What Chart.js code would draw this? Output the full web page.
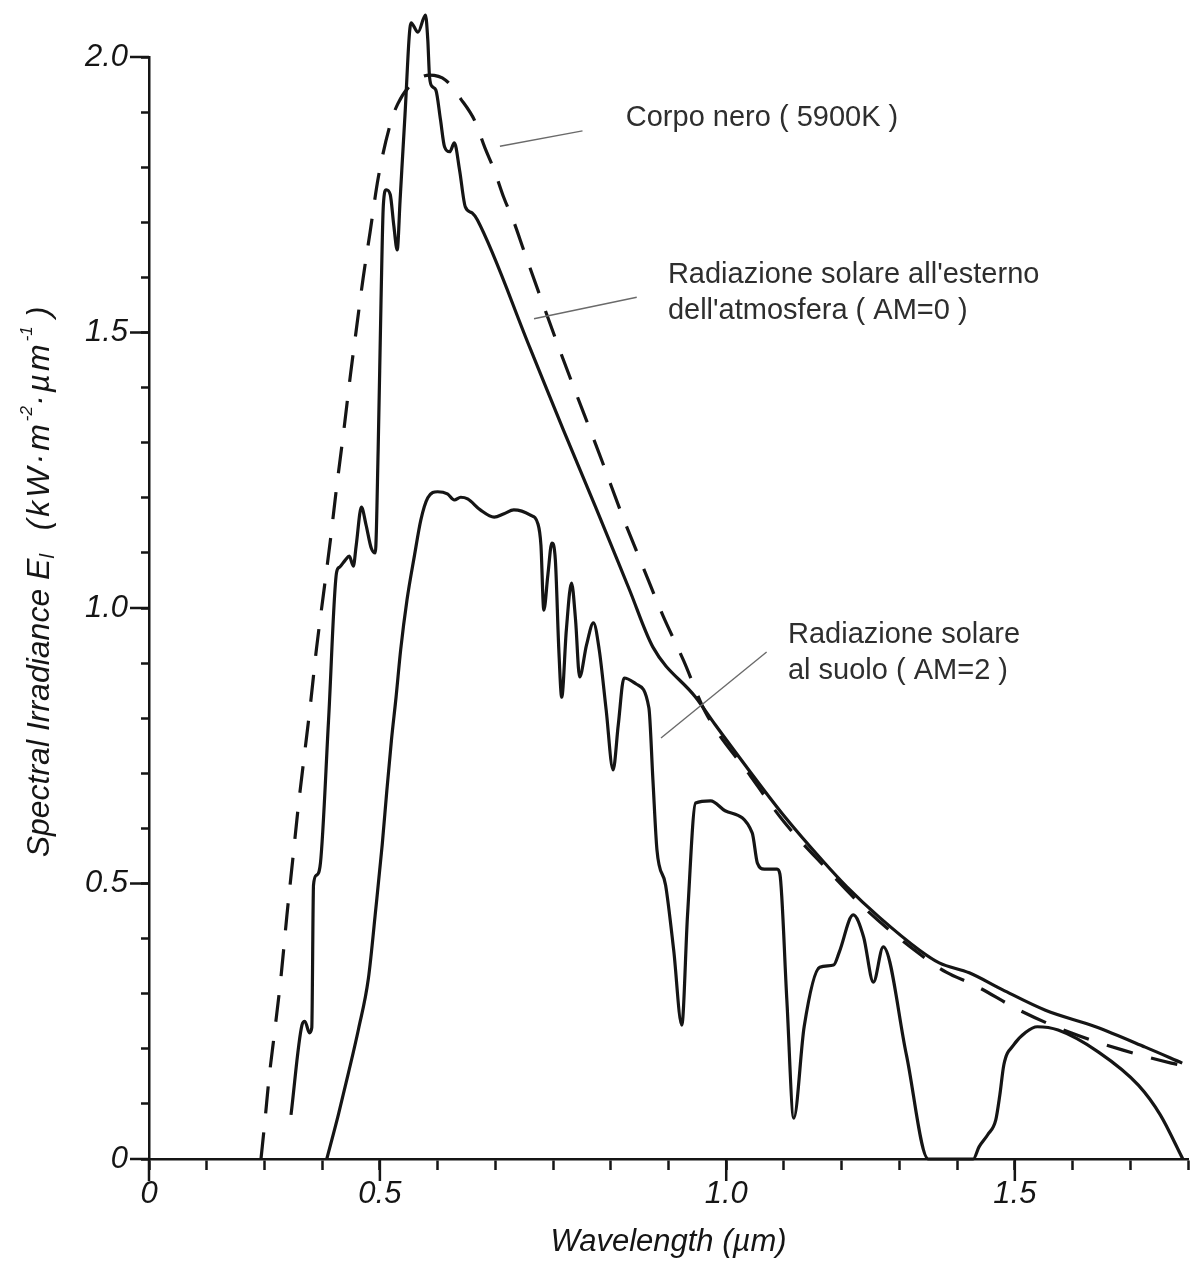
<!DOCTYPE html>
<html>
<head>
<meta charset="utf-8">
<title>Spectral Irradiance</title>
<script src="https://cdn.jsdelivr.net/npm/chart.js@4.4.1/dist/chart.umd.min.js"></script>
<style>
  html, body { margin: 0; padding: 0; background: #fff; }
  #irradianceChart { display: block; }
</style>
</head>
<body>
<canvas id="irradianceChart" width="1194" height="1263"></canvas>
<script>
// wavelength in µm, spectral irradiance in kW·m-2·µm-1

// black body at 5900 K (dashed)
var blackbodyX = [0.194, 0.201, 0.208, 0.218, 0.229, 0.239, 0.249, 0.259, 0.270, 0.280,
                  0.290, 0.302, 0.314, 0.325, 0.337, 0.349, 0.359, 0.371, 0.383, 0.397,
                  0.418, 0.431, 0.457, 0.486, 0.514, 0.540, 0.564, 0.582, 0.598, 0.615,
                  0.632, 0.649, 0.680, 0.718, 0.784, 0.821, 0.856, 0.890, 0.926, 0.964,
                  1.042, 1.100, 1.169, 1.243, 1.330, 1.381, 1.429, 1.510, 1.597, 1.686,
                  1.771, 1.790];
var blackbodyY = [0.000, 0.071, 0.147, 0.234, 0.334, 0.443, 0.543, 0.643, 0.740, 0.828,
                  0.925, 1.023, 1.121, 1.219, 1.318, 1.423, 1.504, 1.599, 1.682, 1.780,
                  1.878, 1.915, 1.953, 1.967, 1.958, 1.924, 1.885, 1.835, 1.795, 1.744,
                  1.701, 1.650, 1.559, 1.450, 1.269, 1.165, 1.074, 0.987, 0.905, 0.811,
                  0.695, 0.612, 0.532, 0.452, 0.376, 0.339, 0.316, 0.269, 0.229, 0.198,
                  0.174, 0.170];

// outside the atmosphere (AM=0)
var am0X = [0.246, 0.265, 0.270, 0.278, 0.282, 0.285, 0.290, 0.297, 0.311, 0.325,
            0.330, 0.340, 0.347, 0.354, 0.359, 0.368, 0.376, 0.385, 0.392, 0.397,
            0.402, 0.406, 0.411, 0.418, 0.424, 0.430, 0.435, 0.443, 0.454, 0.466,
            0.479, 0.483, 0.486, 0.491, 0.497, 0.505, 0.512, 0.521, 0.529, 0.538,
            0.548, 0.560, 0.569, 0.660, 0.718, 0.775, 0.832, 0.873, 0.947, 0.981,
            1.042, 1.100, 1.169, 1.209, 1.265, 1.335, 1.369, 1.421, 1.479, 1.553,
            1.640, 1.726, 1.790];
var am0Y = [0.080, 0.243, 0.250, 0.229, 0.238, 0.497, 0.515, 0.537, 0.795, 1.065,
            1.074, 1.087, 1.094, 1.076, 1.114, 1.183, 1.151, 1.109, 1.100, 1.287,
            1.559, 1.731, 1.759, 1.750, 1.695, 1.650, 1.740, 1.886, 2.062, 2.045,
            2.076, 2.031, 1.964, 1.946, 1.940, 1.886, 1.837, 1.828, 1.844, 1.795,
            1.728, 1.717, 1.704, 1.472, 1.323, 1.180, 1.034, 0.929, 0.838, 0.788,
            0.702, 0.623, 0.539, 0.494, 0.439, 0.379, 0.356, 0.338, 0.307, 0.270,
            0.240, 0.203, 0.174];

// at ground level (AM=2)
var am2X = [0.308, 0.328, 0.345, 0.363, 0.380, 0.393, 0.404, 0.412, 0.420, 0.428,
            0.436, 0.447, 0.460, 0.471, 0.483, 0.500, 0.517, 0.529, 0.540, 0.552,
            0.574, 0.598, 0.615, 0.632, 0.660, 0.674, 0.679, 0.684, 0.691, 0.698,
            0.704, 0.710, 0.715, 0.723, 0.732, 0.739, 0.746, 0.758, 0.770, 0.780,
            0.792, 0.804, 0.813, 0.823, 0.844, 0.866, 0.873, 0.880, 0.895, 0.909,
            0.923, 0.933, 0.947, 0.973, 0.998, 1.045, 1.054, 1.066, 1.088, 1.093,
            1.105, 1.117, 1.135, 1.162, 1.186, 1.196, 1.220, 1.238, 1.255, 1.272,
            1.312, 1.350, 1.428, 1.438, 1.453, 1.467, 1.474, 1.481, 1.498, 1.519,
            1.539, 1.575, 1.645, 1.714, 1.752, 1.791];
var am2Y = [0.000, 0.080, 0.154, 0.236, 0.327, 0.455, 0.570, 0.668, 0.760, 0.838,
            0.924, 1.015, 1.096, 1.160, 1.200, 1.211, 1.207, 1.196, 1.201, 1.198,
            1.178, 1.165, 1.171, 1.178, 1.169, 1.152, 1.114, 0.996, 1.060, 1.118,
            1.087, 0.924, 0.838, 0.960, 1.045, 0.978, 0.875, 0.933, 0.973, 0.924,
            0.815, 0.706, 0.788, 0.873, 0.862, 0.819, 0.688, 0.561, 0.497, 0.379,
            0.243, 0.443, 0.646, 0.650, 0.632, 0.592, 0.537, 0.526, 0.526, 0.517,
            0.289, 0.074, 0.240, 0.348, 0.352, 0.376, 0.443, 0.403, 0.321, 0.385,
            0.190, 0.000, 0.000, 0.022, 0.044, 0.071, 0.116, 0.171, 0.207, 0.230,
            0.240, 0.234, 0.194, 0.134, 0.080, 0.000];

// axis labels
var xLabelValues = [0, 0.4, 1.0, 1.5];
var xLabelTexts = ['0', '0.5', '1.0', '1.5'];
var yLabelValues = [0, 0.5, 1.0, 1.5, 2.0];
var yLabelTexts = ['0', '0.5', '1.0', '1.5', '2.0'];

var xTickValues = [];
for (var i = 0; i <= 18; i++) xTickValues.push(i / 10);
var yTickValues = [];
for (var j = 0; j <= 20; j++) yTickValues.push(j / 10);

var ink = '#151515';
var family = "'Liberation Sans', Arial, Helvetica, sans-serif";

// curve captions with their leader lines (data coordinates)
var notes = [
  { lines: ['Corpo nero ( 5900K )'], at: [0.826, 1.889], from: [0.608, 1.838], to: [0.751, 1.866] },
  { lines: ["Radiazione solare all'esterno", "dell'atmosfera ( AM=0 )"], at: [0.899, 1.604], from: [0.667, 1.525], to: [0.845, 1.564] },
  { lines: ['Radiazione solare', 'al suolo ( AM=2 )'], at: [1.107, 0.951], from: [0.887, 0.764], to: [1.070, 0.920] }
];

var yTitleParts = [
  { text: 'Spectral Irradiance ', size: 32, spacing: 0, shift: 0 },
  { text: 'E', size: 32, spacing: 0, shift: 0 },
  { text: 'l', size: 20, spacing: 0, shift: 8 },
  { text: '  (kW·m', size: 32, spacing: 3, shift: 0 },
  { text: '-2', size: 17, spacing: 0, shift: -13 },
  { text: '·µm', size: 32, spacing: 3, shift: 0 },
  { text: '-1', size: 17, spacing: 0, shift: -13 },
  { text: ' )', size: 32, spacing: 0, shift: 0 }
];

var toPoints = function(xs, ys) {
  return xs.map(function(x, k) { return { x: x, y: ys[k] }; });
};

var labelFor = function(value, values, texts) {
  for (var k = 0; k < values.length; k++) {
    if (Math.abs(value - values[k]) < 1e-6) return texts[k];
  }
  return '';
};

// longer marks at labelled ticks
var majorTicks = {
  id: 'majorTicks',
  afterDraw: function(chart) {
    var c = chart.ctx, area = chart.chartArea;
    var xs = chart.scales.x, ys = chart.scales.y;
    c.save();
    c.strokeStyle = ink;
    c.lineWidth = 2.5;
    c.beginPath();
    xLabelValues.forEach(function(v) {
      var px = xs.getPixelForValue(v);
      c.moveTo(px, area.bottom);
      c.lineTo(px, area.bottom + 22);
    });
    yLabelValues.forEach(function(v) {
      var py = ys.getPixelForValue(v);
      c.moveTo(area.left, py);
      c.lineTo(area.left - 19, py);
    });
    c.stroke();
    c.restore();
  }
};

var captions = {
  id: 'captions',
  afterDraw: function(chart) {
    var c = chart.ctx;
    var xs = chart.scales.x, ys = chart.scales.y;
    c.save();
    notes.forEach(function(n) {
      c.strokeStyle = '#6a6a6a';
      c.lineWidth = 1.4;
      c.beginPath();
      c.moveTo(xs.getPixelForValue(n.from[0]), ys.getPixelForValue(n.from[1]));
      c.lineTo(xs.getPixelForValue(n.to[0]), ys.getPixelForValue(n.to[1]));
      c.stroke();

      c.fillStyle = '#2e2e2e';
      c.font = '29px ' + family;
      c.textAlign = 'left';
      c.textBaseline = 'middle';
      var x0 = xs.getPixelForValue(n.at[0]);
      var y0 = ys.getPixelForValue(n.at[1]);
      n.lines.forEach(function(line, k) {
        c.fillText(line, x0, y0 + k * 36);
      });
    });
    c.restore();
  }
};

// rotated y axis title with subscript and exponents
var yTitle = {
  id: 'yTitle',
  afterDraw: function(chart) {
    var c = chart.ctx, area = chart.chartArea;
    c.save();
    c.translate(40, (area.top + area.bottom) / 2 - 26);
    c.rotate(-Math.PI / 2);
    c.fillStyle = ink;
    c.textBaseline = 'middle';
    c.textAlign = 'left';
    var widths = yTitleParts.map(function(p) {
      c.font = 'italic ' + p.size + 'px ' + family;
      c.letterSpacing = p.spacing + 'px';
      return c.measureText(p.text).width;
    });
    var total = widths.reduce(function(a, b) { return a + b; }, 0);
    var x = -total / 2;
    yTitleParts.forEach(function(p, k) {
      c.font = 'italic ' + p.size + 'px ' + family;
      c.letterSpacing = p.spacing + 'px';
      c.fillText(p.text, x, p.shift);
      x += widths[k];
    });
    c.restore();
  }
};

var curve = function(label, xs, ys, dash) {
  return {
    label: label,
    data: toPoints(xs, ys),
    borderColor: ink,
    borderWidth: 3.2,
    borderDash: dash,
    pointRadius: 0,
    fill: false,
    cubicInterpolationMode: 'monotone',
    clip: false
  };
};

var tickFont = { family: family, size: 31, style: 'italic' };

new Chart(document.getElementById('irradianceChart'), {
  type: 'line',
  data: {
    datasets: [
      curve('Corpo nero ( 5900K )', blackbodyX, blackbodyY, [27, 19]),
      curve('AM=0', am0X, am0Y, []),
      curve('AM=2', am2X, am2Y, [])
    ]
  },
  options: {
    responsive: false,
    animation: false,
    devicePixelRatio: 1,
    layout: { padding: { top: 57, right: 1, bottom: 0, left: 0 } },
    plugins: {
      legend: { display: false },
      tooltip: { enabled: false }
    },
    scales: {
      x: {
        type: 'linear',
        min: 0,
        max: 1.8,
        border: { display: true, color: ink, width: 2.5 },
        grid: { drawOnChartArea: false, drawTicks: true, tickLength: 11, tickColor: ink, tickWidth: 2.5 },
        ticks: {
          autoSkip: false,
          maxRotation: 0,
          padding: 6,
          color: ink,
          font: tickFont,
          callback: function(value) { return labelFor(value, xLabelValues, xLabelTexts); }
        },
        afterBuildTicks: function(scale) {
          scale.ticks = xTickValues.map(function(v) { return { value: v }; });
        },
        afterFit: function(scale) { scale.height = 104; },
        title: {
          display: true,
          text: 'Wavelength (µm)',
          color: ink,
          font: { family: family, size: 31, style: 'italic' },
          padding: { top: 0, bottom: 2 }
        }
      },
      y: {
        type: 'linear',
        min: 0,
        max: 2.0,
        border: { display: true, color: ink, width: 2.5 },
        grid: { drawOnChartArea: false, drawTicks: true, tickLength: 8, tickColor: ink, tickWidth: 2.5 },
        ticks: {
          autoSkip: false,
          padding: 13,
          color: ink,
          font: tickFont,
          callback: function(value) { return labelFor(value, yLabelValues, yLabelTexts); }
        },
        afterBuildTicks: function(scale) {
          scale.ticks = yTickValues.map(function(v) { return { value: v }; });
        },
        afterFit: function(scale) { scale.width = 149; }
      }
    }
  },
  plugins: [majorTicks, captions, yTitle]
});
</script>
</body>
</html>
